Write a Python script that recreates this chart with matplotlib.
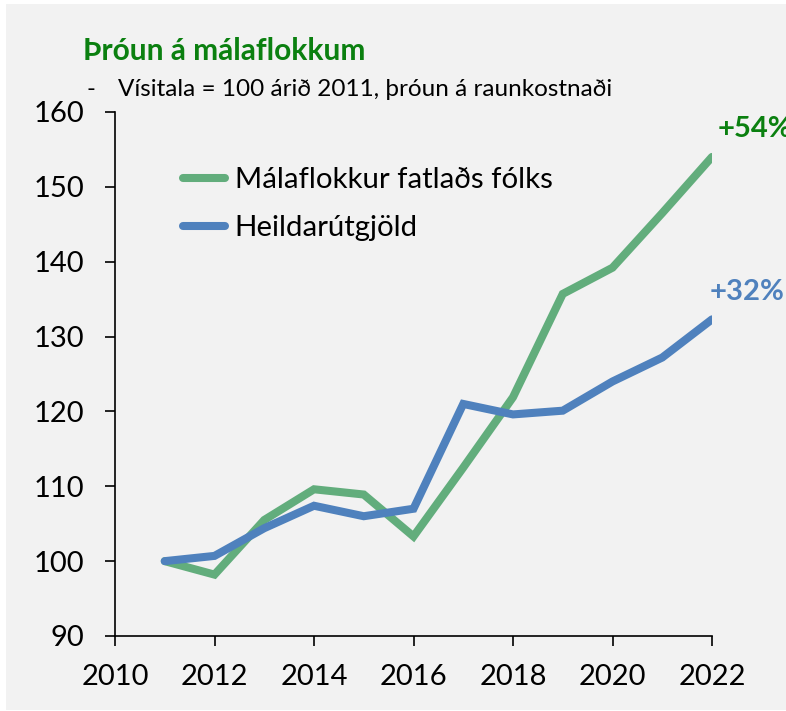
"""Þróun á málaflokkum: index chart, 2011 = 100."""

import matplotlib
matplotlib.use("Agg")
import matplotlib.pyplot as plt
from matplotlib.patches import Rectangle

plt.rcParams["font.family"] = ["Lato", "DejaVu Sans"]

YEARS = [2011, 2012, 2013, 2014, 2015, 2016, 2017, 2018, 2019, 2020, 2021, 2022]
DISABILITY = [100, 98.2, 105.5, 109.6, 108.9, 103.3, 112.5, 121.9, 135.7, 139.2, 146.5, 154.0]
TOTAL = [100, 100.7, 104.4, 107.4, 106.0, 107.0, 121.0, 119.6, 120.1, 124.0, 127.2, 132.3]

SERIES_LABELS = ["Málaflokkur fatlaðs fólks", "Heildarútgjöld"]
END_LABELS = ["+54%", "+32%"]
X_TICKS = [2010, 2012, 2014, 2016, 2018, 2020, 2022]
Y_TICKS = [90, 100, 110, 120, 130, 140, 150, 160]

GREEN = "#62ad7c"
BLUE = "#4f81bd"
TITLE_GREEN = "#0b8010"
PANEL = "#f2f2f2"


def main():
    fig = plt.figure(figsize=(7.86, 7.11), dpi=100)
    fig.patch.set_facecolor("white")
    fig.patches.append(Rectangle((6 / 786, 1 / 711), 1 - 6 / 786, 1 - 5 / 711,
                                 transform=fig.transFigure, facecolor=PANEL,
                                 edgecolor="none", zorder=-5))

    ax = fig.add_axes([115 / 786, 1 - 636 / 711, (712 - 115) / 786, (636 - 112) / 711])
    ax.set_facecolor("none")

    ax.plot(YEARS, DISABILITY, color=GREEN, lw=5.8, solid_capstyle="round",
            solid_joinstyle="miter", label=SERIES_LABELS[0], zorder=3)
    ax.plot(YEARS, TOTAL, color=BLUE, lw=5.8, solid_capstyle="round",
            solid_joinstyle="miter", label=SERIES_LABELS[1], zorder=4)

    ax.set_xlim(2010, 2022)
    ax.set_ylim(90, 160)
    ax.set_xticks(X_TICKS)
    ax.set_yticks(Y_TICKS)
    ax.tick_params(axis="both", direction="out", length=7, width=1.2,
                   labelsize=21, colors="black")
    ax.tick_params(axis="y", pad=15)
    ax.tick_params(axis="x", pad=13)
    for side in ("top", "right"):
        ax.spines[side].set_visible(False)
    for side in ("left", "bottom"):
        ax.spines[side].set_linewidth(1.2)

    ax.annotate(END_LABELS[0], xy=(YEARS[-1], DISABILITY[-1]), xytext=(4, 11),
                textcoords="offset points", ha="left", va="bottom",
                fontsize=21, fontweight="bold", color=TITLE_GREEN, annotation_clip=False)
    ax.annotate(END_LABELS[1], xy=(YEARS[-1], TOTAL[-1]), xytext=(-2, 10),
                textcoords="offset points", ha="left", va="bottom",
                fontsize=21, fontweight="bold", color=BLUE, annotation_clip=False)

    leg = ax.legend(loc="upper left", bbox_to_anchor=(0.07, 0.945), frameon=False,
                    fontsize=21.2, handlelength=1.4, handletextpad=0.35, labelspacing=0.75)
    for line in leg.get_lines():
        line.set_linewidth(5.8)

    fig.text(83 / 786, 1 - 60 / 711, "Þróun á málaflokkum", ha="left", va="baseline",
             fontsize=21.5, fontweight="bold", color=TITLE_GREEN)
    fig.text(87 / 786, 1 - 96 / 711, "-", ha="left", va="baseline", fontsize=17)
    fig.text(118 / 786, 1 - 96 / 711, "Vísitala = 100 árið 2011, þróun á raunkostnaði",
             ha="left", va="baseline", fontsize=17.5)

    fig.savefig("out.png", dpi=100, facecolor=fig.get_facecolor())


if __name__ == "__main__":
    main()
